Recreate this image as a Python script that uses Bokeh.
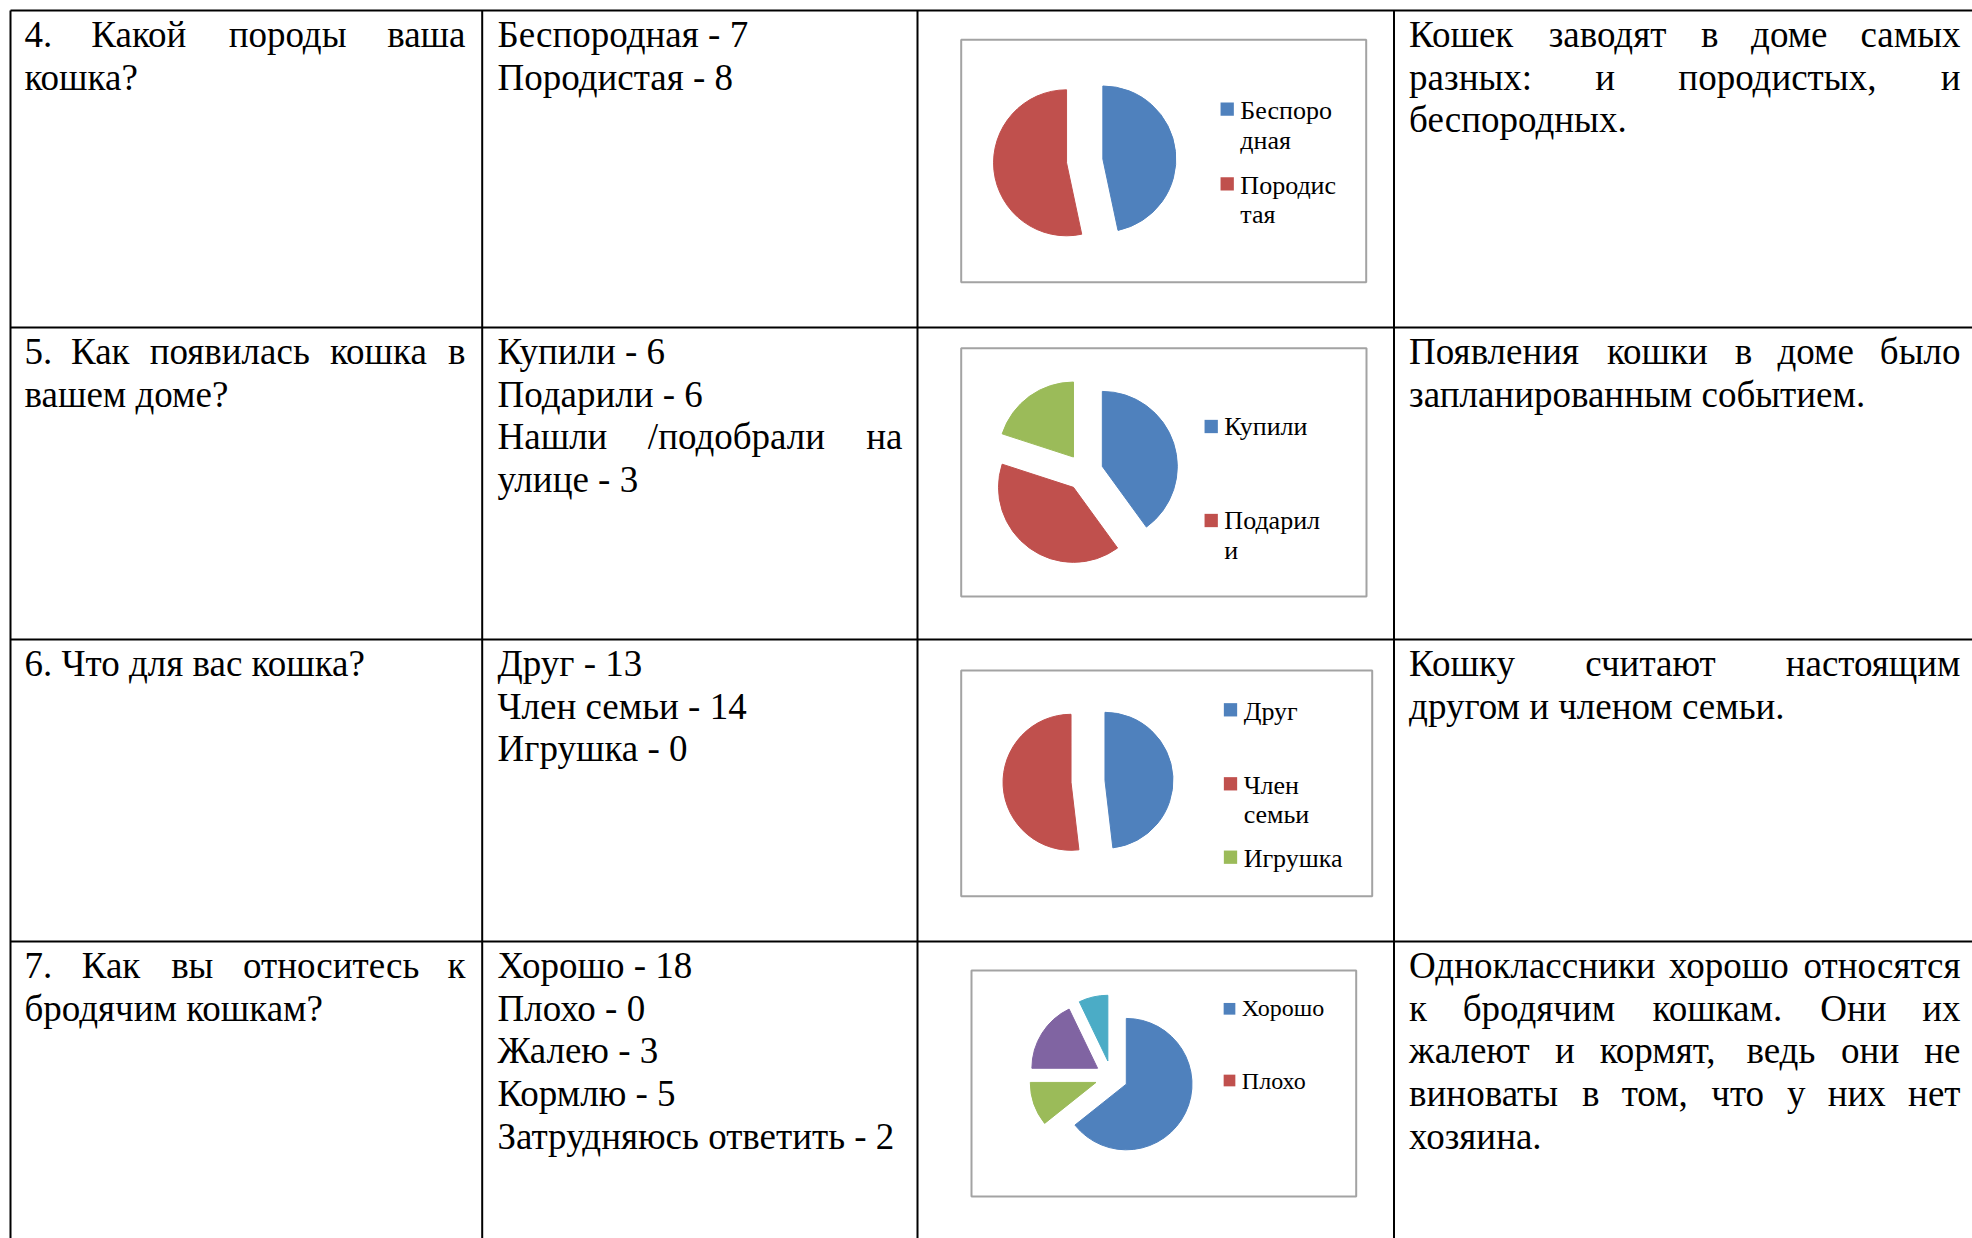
import numpy as np
from bokeh.plotting import figure
from bokeh.models import Range1d
from bokeh.core.properties import value
from bokeh.embed import file_html
from bokeh.resources import INLINE

# ---------------- data ----------------
breed_labels = ["Беспородная", "Породистая"]
breed_values = [7, 8]
origin_labels = ["Купили", "Подарили", "Нашли /подобрали на улице"]
origin_values = [6, 6, 3]
role_labels = ["Друг", "Член семьи", "Игрушка"]
role_values = [13, 14, 0]
stray_labels = ["Хорошо", "Плохо", "Жалею", "Кормлю", "Затрудняюсь ответить"]
stray_values = [18, 0, 3, 5, 2]

palette = ["#4F81BD", "#C0504D", "#9BBB59", "#8064A2", "#4BACC6"]

# cell texts: (line, justified)
question_lines = [
    [("4. Какой породы ваша", True), ("кошка?", False)],
    [("5. Как появилась кошка в", True), ("вашем доме?", False)],
    [("6. Что для вас кошка?", False)],
    [("7. Как вы относитесь к", True), ("бродячим кошкам?", False)],
]
answer_lines = [
    [(f"{l} - {v}", False) for l, v in zip(breed_labels, breed_values)],
    [(f"{origin_labels[0]} - {origin_values[0]}", False),
     (f"{origin_labels[1]} - {origin_values[1]}", False),
     ("Нашли /подобрали на", True),
     (f"улице - {origin_values[2]}", False)],
    [(f"{l} - {v}", False) for l, v in zip(role_labels, role_values)],
    [(f"{l} - {v}", False) for l, v in zip(stray_labels, stray_values)],
]
conclusion_lines = [
    [("Кошек заводят в доме самых", True), ("разных: и породистых, и", True), ("беспородных.", False)],
    [("Появления кошки в доме было", True), ("запланированным событием.", False)],
    [("Кошку считают настоящим", True), ("другом и членом семьи.", False)],
    [("Одноклассники хорошо относятся", True), ("к бродячим кошкам. Они их", True),
     ("жалеют и кормят, ведь они не", True), ("виноваты в том, что у них нет", True),
     ("хозяина.", False)],
]

# legend entries shown (wrapped as in the picture)
legend_breed = [["Беспоро", "дная"], ["Породис", "тая"]]
legend_origin = [["Купили"], ["Подарил", "и"]]
legend_role = [["Друг"], ["Член", "семьи"], ["Игрушка"]]
legend_stray = [["Хорошо"], ["Плохо"]]

# ---------------- helpers ----------------
_lower = "абвгдеёжзийклмнопрстуфхцчшщъыьэюя"
_lw = [444, 509, 472, 410, 509, 444, 444, 691, 395, 535, 535, 486, 499, 633, 535, 500,
       535, 500, 444, 437, 500, 648, 500, 535, 503, 770, 770, 517, 672, 456, 429, 747, 479]
W = dict(zip(_lower, _lw))
W.update({"К": 690, "Б": 574, "П": 722, "Н": 722, "Д": 667, "Ч": 669, "И": 722, "Х": 722,
          "Ж": 906, "З": 501, "О": 722, "Я": 667, " ": 250, ".": 250, ",": 250, ":": 278,
          "?": 444, "/": 278, "-": 333})
for d in "0123456789":
    W[d] = 500


def text_width(s, size):
    return sum(W.get(ch, 500) for ch in s) * size / 1000.0


def Y(py):
    return -py


BFIX = 0.335  # empirical shift of the rendered alphabetic baseline (fraction of font size)


def YB(py, fs):
    return -(py - BFIX * fs)


FS = 37
LH = 42.7
left_items, right_items = [], []


def layout_cell(lines, left, right, top):
    for k, (txt, just) in enumerate(lines):
        base = top + 36.3 + k * LH
        words = txt.split(" ")
        if not just or len(words) == 1:
            left_items.append((left, base, txt))
            continue
        widths = [text_width(w, FS) for w in words]
        gap = (right - left - sum(widths)) / (len(words) - 1)
        x = left
        for i, w in enumerate(words):
            if i == len(words) - 1:
                right_items.append((right, base, w))
            else:
                left_items.append((x, base, w))
            x += widths[i] + gap


row_tops = [10, 327, 639, 941]
col_x = [10, 481.7, 917, 1393.5]
for r in range(4):
    layout_cell(question_lines[r], 24, 465, row_tops[r])
    layout_cell(answer_lines[r], 497, 902, row_tops[r])
    layout_cell(conclusion_lines[r], 1408.6, 1960, row_tops[r])

# ---------------- figure ----------------
p = figure(width=1972, height=1238, output_backend="svg", toolbar_location=None,
           x_range=Range1d(0, 1972), y_range=Range1d(-1238, 0),
           x_axis_type=None, y_axis_type=None, min_border=0)
p.grid.visible = False
p.outline_line_color = None
p.background_fill_color = "white"
p.border_fill_color = "white"

# table lines
p.segment(x0=[10] * 4, x1=[1990] * 4, y0=[Y(v) for v in row_tops], y1=[Y(v) for v in row_tops],
          line_color="black", line_width=2)
p.segment(x0=col_x, x1=col_x, y0=[Y(10)] * 4, y1=[Y(1260)] * 4,
          line_color="black", line_width=2)

font = value("'Liberation Serif', 'Times New Roman', serif")
p.text(x=[a[0] for a in left_items], y=[YB(a[1], FS) for a in left_items], text=[a[2] for a in left_items],
       text_font=font, text_font_size=f"{FS}px", text_align="left", text_baseline="alphabetic",
       text_color="black")
p.text(x=[a[0] for a in right_items], y=[YB(a[1], FS) for a in right_items], text=[a[2] for a in right_items],
       text_font=font, text_font_size=f"{FS}px", text_align="right", text_baseline="alphabetic",
       text_color="black")


def pie_chart(values, box, center, radius, legend, leg_x, sq_y, base_ys, sq, lfs):
    l, t, r, b = box
    p.quad(left=l, right=r, top=Y(t), bottom=Y(b), fill_color="white",
           line_color="#a3a3a3", line_width=2)
    vals = np.array(values, dtype=float)
    frac = vals / vals.sum()
    cum_end = np.cumsum(frac)
    cum_start = cum_end - frac
    keep = vals > 0
    start = np.pi / 2 - 2 * np.pi * cum_end
    end = np.pi / 2 - 2 * np.pi * cum_start
    mid = (start + end) / 2
    d = 0.25 * radius
    cx = center[0] + d * np.cos(mid)
    cy = Y(center[1]) + d * np.sin(mid)
    cols = np.array(palette[:len(vals)])
    p.wedge(x=cx[keep], y=cy[keep], radius=radius, start_angle=start[keep], end_angle=end[keep],
            fill_color=list(cols[keep]), line_color=list(cols[keep]), line_width=1)
    # legend
    for i, entry in enumerate(legend):
        p.rect(x=leg_x, y=Y(sq_y[i]), width=sq, height=sq, fill_color=palette[i], line_color=None)
        tx = [leg_x + sq / 2 + 6.5] * len(entry)
        ty = [YB(base_ys[i] + k * 29.8, lfs) for k in range(len(entry))]
        p.text(x=tx, y=ty, text=entry, text_font=font, text_font_size=f"{lfs}px",
               text_align="left", text_baseline="alphabetic", text_color="black")


pie_chart(breed_values, (960.7, 39.3, 1365.7, 281.7), (1084.2, 160.4), 73,
          legend_breed, 1226.7, [108.7, 183.3], [119, 193.3], 13.3, 26)
pie_chart(origin_values, (960.7, 347.7, 1366, 596), (1084, 471.7), 75,
          legend_origin, 1210.7, [426, 520], [435, 529], 13.3, 26)
pie_chart(role_values, (960.7, 670, 1371.7, 895.7), (1087.5, 780.8), 68,
          legend_role, 1230, [709.3, 783.3, 856.7], [719.3, 793.3, 866.7], 13.3, 26)
pie_chart(stray_values, (971, 970, 1355.7, 1196), (1111, 1076.5), 65.7,
          legend_stray, 1229, [1008.3, 1080], [1016, 1088.3], 11.7, 24)

open("out.html", "w").write(file_html(p, INLINE))
